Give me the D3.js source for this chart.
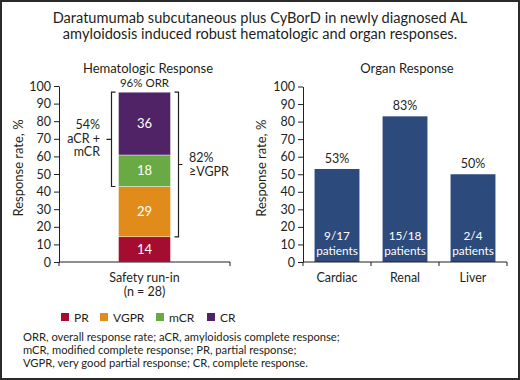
<!DOCTYPE html>
<html>
<head>
<meta charset="utf-8">
<script src="https://cdn.jsdelivr.net/npm/d3@7"></script>
<style>
  body { margin: 0; background: #fff; }
  svg { display: block; font-family: Lato, "Noto Sans", sans-serif; }
</style>
</head>
<body>
<script>
// data
let titleLines = ["Daratumumab subcutaneous plus CyBorD in newly diagnosed AL",
  "amyloidosis induced robust hematologic and organ responses."];
let hemCategory = ["Safety run-in"];
let hemSubLabel = "(n = 28)";
let responseTypes = ["PR", "VGPR", "mCR", "CR"];
let responseValues = [14.3, 28.6, 17.9, 35.7];
let responseColors = ["#a50d30", "#e08b1a", "#6aaa45", "#4f2366"];
let organs = ["Cardiac", "Renal", "Liver"];
let organValues = [53, 83, 50];
let organPatients = ["9/17", "15/18", "2/4"];
let yTicks = [0, 10, 20, 30, 40, 50, 60, 70, 80, 90, 100];
let footnotes = ["ORR, overall response rate; aCR, amyloidosis complete response;",
  "mCR, modified complete response; PR, partial response;",
  "VGPR, very good partial response; CR, complete response."];

let width = 520, height = 380;
let ink = "#231f20";

let svg = d3.select("body").append("svg")
  .attr("width", width)
  .attr("height", height);

svg.append("rect")
  .attr("x", 1).attr("y", 1)
  .attr("width", width - 2).attr("height", height - 2)
  .attr("fill", "#fff").attr("stroke", "#2b2b2b").attr("stroke-width", 2);

svg.append("g").selectAll("text")
  .data(titleLines)
  .enter().append("text")
  .attr("x", 260)
  .attr("y", (d, i) => 23 + i * 15.5)
  .attr("text-anchor", "middle")
  .attr("font-size", 14.6)
  .attr("fill", ink)
  .text(d => d);

// helper for y axis
function drawYAxis(g, y, x0, titleX) {
  g.append("g")
    .attr("transform", "translate(" + x0 + ",0)")
    .call(d3.axisLeft(y).tickValues(yTicks).tickSize(5).tickSizeOuter(0).tickPadding(3))
    .call(a => a.selectAll("text").attr("font-size", 12.5).attr("fill", ink).attr("font-family", "Lato, 'Noto Sans', sans-serif"))
    .call(a => a.selectAll("line,path").attr("stroke", ink));
  g.append("text")
    .attr("transform", "translate(" + titleX + "," + ((y(0) + y(100)) / 2 - 6) + ") rotate(-90)")
    .attr("text-anchor", "middle")
    .attr("font-size", 13)
    .attr("fill", ink)
    .text("Response rate, %");
}

function drawXAxis(g, x, y) {
  let r = x.range();
  let n = x.domain().length;
  let step = (r[1] - r[0]) / n;
  g.append("line")
    .attr("x1", r[0]).attr("x2", r[1])
    .attr("y1", y(0)).attr("y2", y(0))
    .attr("stroke", ink);
  g.selectAll(".xt")
    .data(d3.range(n + 1))
    .enter().append("line")
    .attr("x1", i => r[0] + i * step).attr("x2", i => r[0] + i * step)
    .attr("y1", y(0)).attr("y2", y(0) + 4)
    .attr("stroke", ink);
}

////////////////////////////////////////////////////////////////////////
// Hematologic response (stacked bar)

let left = svg.append("g");
let yL = d3.scaleLinear().domain([0, 100]).range([262, 86]);
let xL = d3.scaleBand().domain(hemCategory).range([59, 230]).paddingInner(0.5).paddingOuter(0.572);

left.append("text")
  .attr("x", 148).attr("y", 72.5)
  .attr("text-anchor", "middle")
  .attr("font-size", 13)
  .attr("fill", ink)
  .text("Hematologic Response");

let stackData = [];
let acc = 0;
responseValues.forEach((v, i) => {
  stackData.push({ key: responseTypes[i], y0: acc, y1: acc + v, v: v, color: responseColors[i] });
  acc += v;
});

let bx = xL(hemCategory[0]), bw = xL.bandwidth();

left.selectAll(".seg")
  .data(stackData)
  .enter().append("rect")
  .attr("x", bx).attr("width", bw)
  .attr("y", d => yL(d.y1))
  .attr("height", d => yL(d.y0) - yL(d.y1))
  .attr("fill", d => d.color)
  .attr("stroke", "#fff").attr("stroke-width", 0.4);

left.selectAll(".segLabel")
  .data(stackData)
  .enter().append("text")
  .attr("x", bx + bw / 2)
  .attr("y", d => yL((d.y0 + d.y1) / 2) + 4.5)
  .attr("text-anchor", "middle")
  .attr("font-size", 13)
  .attr("fill", "#fff")
  .text(d => d3.format(".0f")(d.v));

drawYAxis(left, yL, 59, 23);
drawXAxis(left, xL, yL);

left.append("text")
  .attr("x", bx + bw / 2).attr("y", 86.5)
  .attr("text-anchor", "middle")
  .attr("font-size", 11.5)
  .attr("fill", ink)
  .text("96% ORR");

left.selectAll(".xl")
  .data([hemCategory[0], hemSubLabel])
  .enter().append("text")
  .attr("x", bx + bw / 2)
  .attr("y", (d, i) => 282 + i * 14)
  .attr("text-anchor", "middle")
  .attr("font-size", 12.5)
  .attr("fill", ink)
  .text(d => d);

// brackets
let total = d3.sum(responseValues);
let crStart = responseValues[0] + responseValues[1];
let vgprStart = responseValues[0];

function bracket(g, xLine, yTop, yBot, dir, tickIn, tickOut) {
  let path = d3.path();
  path.moveTo(xLine - dir * tickIn, yTop);
  path.lineTo(xLine, yTop);
  path.lineTo(xLine, yBot);
  path.lineTo(xLine - dir * tickIn, yBot);
  let mid = (yTop + yBot) / 2;
  path.moveTo(xLine, mid);
  path.lineTo(xLine + dir * tickOut, mid);
  g.append("path")
    .attr("d", path.toString())
    .attr("fill", "none")
    .attr("stroke", ink)
    .attr("stroke-width", 1.2);
  return mid;
}

let midA = bracket(left, bx - 7, yL(total), yL(crStart), -1, 4, 5);
left.selectAll(".aLab")
  .data(["54%", "aCR +", "mCR"])
  .enter().append("text")
  .attr("x", 100)
  .attr("y", (d, i) => midA - 10 + i * 13.5)
  .attr("text-anchor", "end")
  .attr("font-size", 12.5)
  .attr("fill", ink)
  .text(d => d);

let midB = bracket(left, bx + bw + 8, yL(total), yL(vgprStart), 1, 4, 4);
left.selectAll(".bLab")
  .data(["82%", "\u2265VGPR"])
  .enter().append("text")
  .attr("x", 189)
  .attr("y", (d, i) => midB - 2 + i * 14)
  .attr("text-anchor", "start")
  .attr("font-size", 12.5)
  .attr("fill", ink)
  .text(d => d);

// legend
let legend = svg.append("g").selectAll("g")
  .data(responseTypes)
  .enter().append("g")
  .attr("transform", (d, i) => "translate(" + [61, 100, 156, 207][i] + ",313)");
legend.append("rect")
  .attr("width", 8).attr("height", 8)
  .attr("fill", (d, i) => responseColors[i]);
legend.append("text")
  .attr("x", 13).attr("y", 8.5)
  .attr("font-size", 12)
  .attr("fill", ink)
  .text(d => d);

svg.append("g").selectAll("text")
  .data(footnotes)
  .enter().append("text")
  .attr("x", 23)
  .attr("y", (d, i) => 341 + i * 13)
  .attr("font-size", 11.2)
  .attr("fill", ink)
  .text(d => d);

////////////////////////////////////////////////////////////////////////
// Organ response

let right = svg.append("g");
let yR = d3.scaleLinear().domain([0, 100]).range([262, 86.5]);
let xR = d3.scaleBand().domain(organs).range([303, 507]).paddingInner(0.34).paddingOuter(0.17);

right.append("text")
  .attr("x", 407).attr("y", 72.5)
  .attr("text-anchor", "middle")
  .attr("font-size", 13)
  .attr("fill", ink)
  .text("Organ Response");

right.selectAll(".bar")
  .data(organs)
  .enter().append("rect")
  .attr("x", d => xR(d))
  .attr("width", xR.bandwidth())
  .attr("y", (d, i) => yR(organValues[i]))
  .attr("height", (d, i) => yR(0) - yR(organValues[i]))
  .attr("fill", "#2c4a7b");

right.selectAll(".val")
  .data(organs)
  .enter().append("text")
  .attr("x", d => xR(d) + xR.bandwidth() / 2)
  .attr("y", (d, i) => yR(organValues[i]) - 6)
  .attr("text-anchor", "middle")
  .attr("font-size", 12.5)
  .attr("fill", ink)
  .text((d, i) => organValues[i] + "%");

organs.forEach((o, i) => {
  right.selectAll(".pt" + i)
    .data([organPatients[i], "patients"])
    .enter().append("text")
    .attr("x", xR(o) + xR.bandwidth() / 2)
    .attr("y", (d, j) => 240 + j * 14.5)
    .attr("text-anchor", "middle")
    .attr("font-size", 11.8)
    .attr("fill", "#fff")
    .text(d => d);
});

drawYAxis(right, yR, 303, 266);
drawXAxis(right, xR, yR);

right.selectAll(".xl")
  .data(organs)
  .enter().append("text")
  .attr("x", d => xR(d) + xR.bandwidth() / 2)
  .attr("y", 282)
  .attr("text-anchor", "middle")
  .attr("font-size", 12.5)
  .attr("fill", ink)
  .text(d => d);
</script>
</body>
</html>
